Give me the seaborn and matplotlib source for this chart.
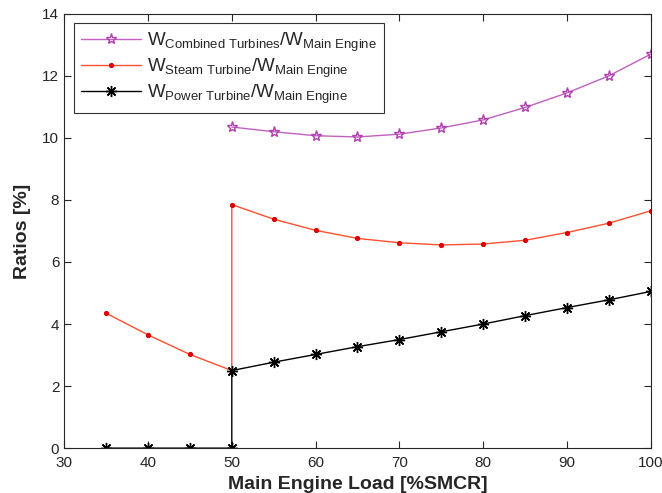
import numpy as np
import pandas as pd
import matplotlib
matplotlib.use("Agg")
import matplotlib.pyplot as plt
import seaborn as sns

# ---- data ------------------------------------------------------------------
load_combined = [50, 55, 60, 65, 70, 75, 80, 85, 90, 95, 100]
ratio_combined = [10.35, 10.2, 10.07, 10.03, 10.12, 10.32, 10.58, 10.98, 11.45, 12.0, 12.7]

load_steam = [35, 40, 45, 50, 50, 55, 60, 65, 70, 75, 80, 85, 90, 95, 100]
ratio_steam = [4.35, 3.65, 3.02, 2.5, 7.85, 7.38, 7.02, 6.76, 6.62, 6.55, 6.58, 6.7, 6.95, 7.25, 7.65]

load_power = [35, 40, 45, 50, 50, 55, 60, 65, 70, 75, 80, 85, 90, 95, 100]
ratio_power = [0, 0, 0, 0, 2.5, 2.77, 3.02, 3.27, 3.5, 3.75, 4.0, 4.27, 4.53, 4.78, 5.05]

x_ticks = [30, 40, 50, 60, 70, 80, 90, 100]
y_ticks = [0, 2, 4, 6, 8, 10, 12, 14]

label_combined = r"$W_{\mathrm{Combined\ Turbines}}/W_{\mathrm{Main\ Engine}}$"
label_steam = r"$W_{\mathrm{Steam\ Turbine}}/W_{\mathrm{Main\ Engine}}$"
label_power = r"$W_{\mathrm{Power\ Turbine}}/W_{\mathrm{Main\ Engine}}$"

# ---- style -----------------------------------------------------------------
sns.set_style("ticks")
plt.rcParams["font.family"] = ["Liberation Sans", "DejaVu Sans"]
plt.rcParams["mathtext.fontset"] = "custom"
plt.rcParams["mathtext.rm"] = "Liberation Sans"
plt.rcParams["mathtext.it"] = "Liberation Sans"
plt.rcParams["xtick.direction"] = "in"
plt.rcParams["ytick.direction"] = "in"

fig = plt.figure(figsize=(6.62, 4.93), dpi=100)
ax = fig.add_axes([0.097, 0.091, 0.886, 0.881])

df_c = pd.DataFrame({"load": load_combined, "ratio": ratio_combined})
df_s = pd.DataFrame({"load": load_steam, "ratio": ratio_steam})
df_p = pd.DataFrame({"load": load_power, "ratio": ratio_power})

sns.lineplot(data=df_c, x="load", y="ratio", sort=False, estimator=None,
             color="#C060C0", lw=1.0, marker="*", markersize=8,
             markerfacecolor="none", markeredgecolor="#B040B0",
             markeredgewidth=1.0, label=label_combined, ax=ax)
sns.lineplot(data=df_s, x="load", y="ratio", sort=False, estimator=None,
             color="#FF5030", lw=1.0, marker="o", markersize=3,
             markerfacecolor="#E00000", markeredgecolor="#E00000",
             label=label_steam, ax=ax)
sns.lineplot(data=df_p, x="load", y="ratio", sort=False, estimator=None,
             color="black", lw=1.0, marker=(8, 2, 0), markersize=8,
             markeredgecolor="black", markeredgewidth=1.0,
             label=label_power, ax=ax)

ax.set_xlim(30, 100)
ax.set_ylim(0, 14)
ax.set_xticks(x_ticks)
ax.set_yticks(y_ticks)
ax.tick_params(labelsize=11, top=True, right=True, length=5, width=0.8)
ax.tick_params(axis="x", pad=6)
for s in ax.spines.values():
    s.set_linewidth(0.8)

ax.set_xlabel("Main Engine Load [%SMCR]", fontsize=14, fontweight="bold", labelpad=4)
ax.set_ylabel("Ratios [%]", fontsize=14, fontweight="bold", labelpad=8)

leg = ax.legend(loc="upper left", fontsize=13.5, frameon=True, fancybox=False,
                edgecolor="black", borderaxespad=0.5, handlelength=3.2,
                handletextpad=0.3, labelspacing=0.15, borderpad=0.4)
leg.get_frame().set_linewidth(0.8)

fig.savefig("out.png", dpi=100)
